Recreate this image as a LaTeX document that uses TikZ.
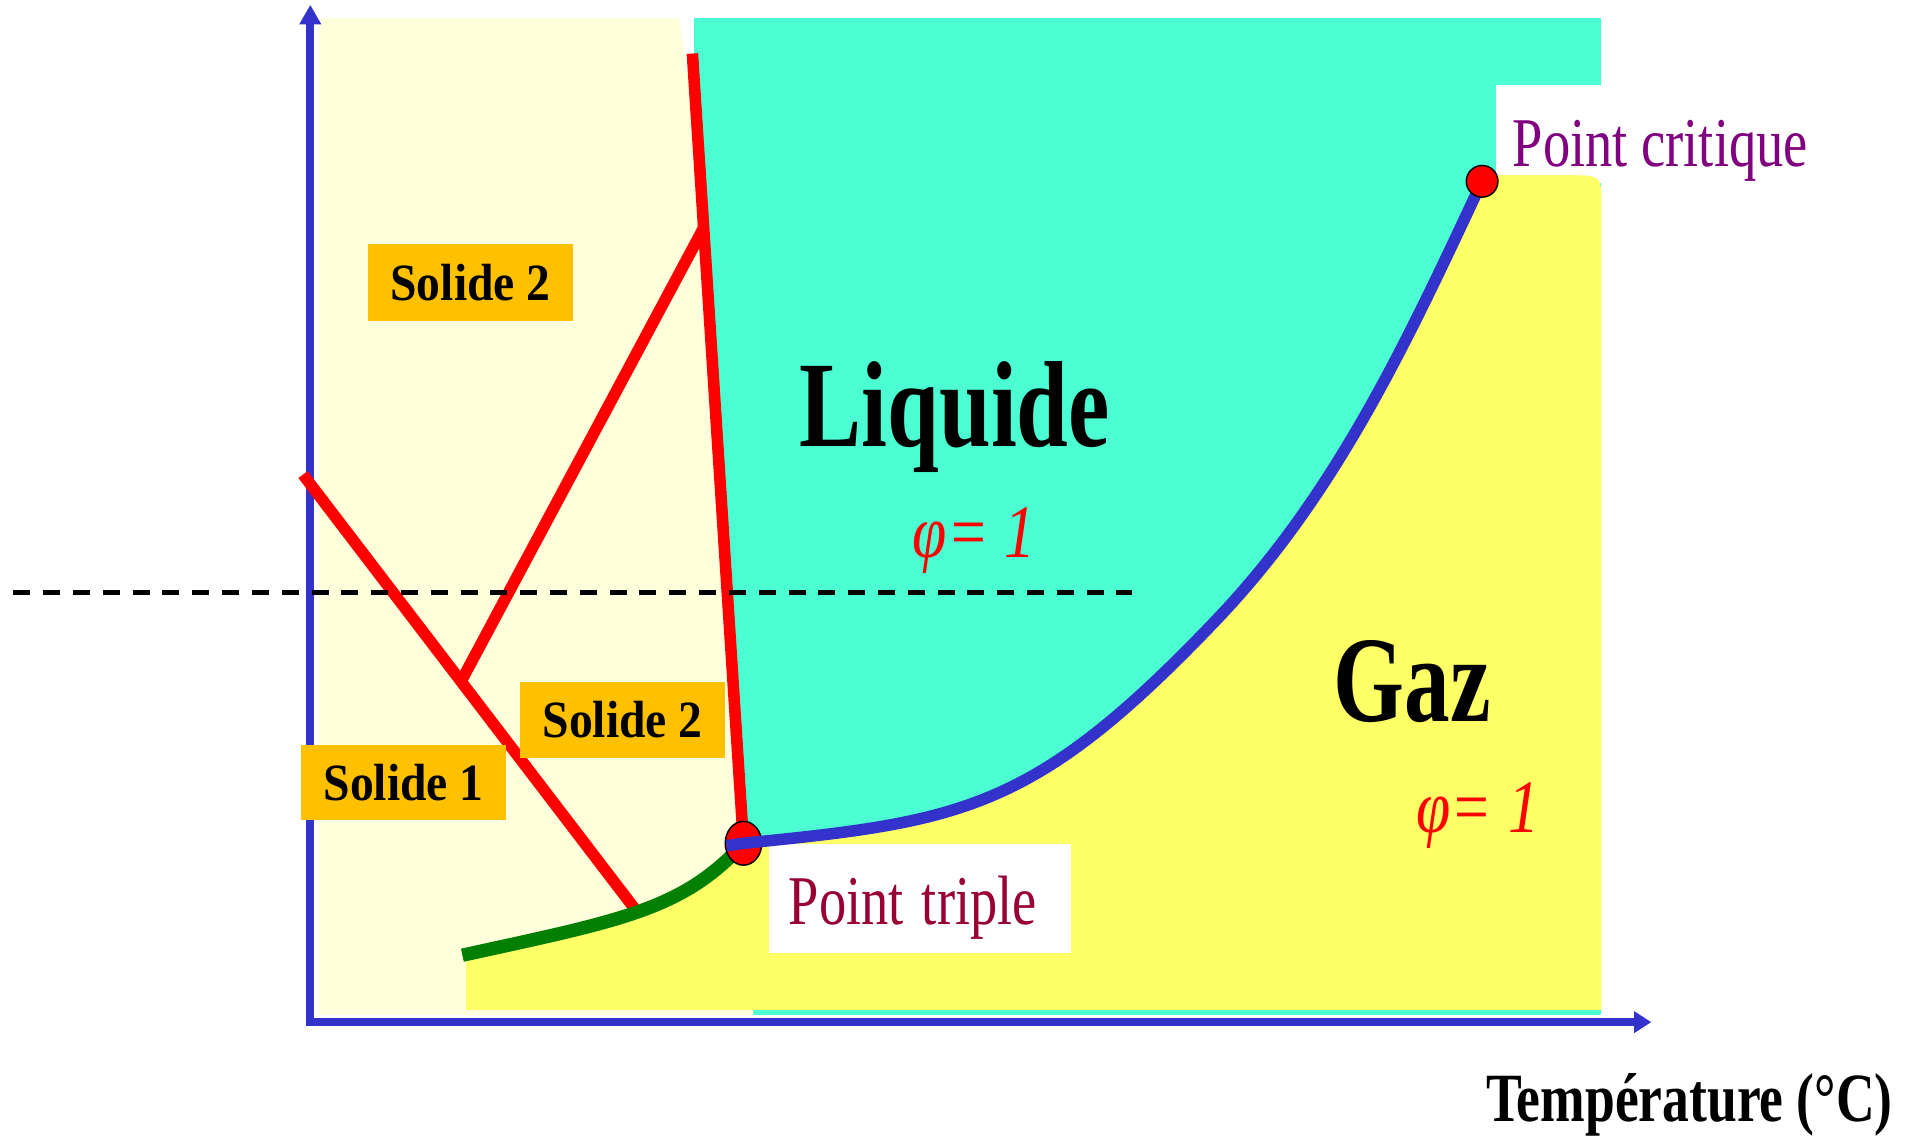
\documentclass[tikz,border=0pt]{standalone}
\usepackage{fontspec}
\setmainfont{Liberation Serif}
\usetikzlibrary{arrows.meta,shapes.geometric,calc}
\definecolor{solidbg}{HTML}{FFFFDC}
\definecolor{liqbg}{HTML}{4CFFD2}
\definecolor{gasbg}{HTML}{FFFF66}
\definecolor{boxor}{HTML}{FFC000}
\definecolor{axblue}{HTML}{3333CC}
\definecolor{dgreen}{HTML}{007F00}
\definecolor{tripc}{HTML}{990033}
\definecolor{critc}{HTML}{800080}
\begin{document}
\begin{tikzpicture}[x=1pt,y=-1pt,
  redline/.style={draw=red, line width=9.5pt},
  solidbox/.style={fill=boxor, minimum width=169pt, inner sep=0pt, anchor=north west,
    font=\fontsize{43}{43}\selectfont\bfseries},
  txt/.style={inner sep=0pt, anchor=base west},
  bigtxt/.style={txt, font=\fontsize{100.6}{100.6}\selectfont\bfseries},
  phitxt/.style={txt, text=red, font=\fontsize{62}{62}\selectfont\itshape},
  ptnode/.style={draw=black, line width=1.2pt, fill=red, inner sep=0pt}]
\useasboundingbox (0,0) rectangle (1568,933);
% key points
\coordinate (O) at (255,840);
\coordinate (ytip) at (255,4);
\coordinate (xtip) at (1357,840);
\coordinate (tpc) at (611,693);
\coordinate (cpc) at (1218,149);
\coordinate (mid) at (1000,509);
\coordinate (mtop) at (569,44);
\coordinate (a1) at (249,390);
\coordinate (a2) at (521,746);
\coordinate (bbot) at ($(a1)!0.4775!(a2)$);
\coordinate (btop) at ($(mtop)!0.2207!(tpc)$);
\coordinate (gstart) at (380,785);
\coordinate (dl) at (11,487);
\coordinate (dr) at (930,487);
% regions
\fill[liqbg] (570,15) rectangle (1316,834);
\fill[solidbg] (262,15) -- (558,15) -- (572,105) -- (tpc) -- (619,834) -- (262,834) -- cycle;
\node[txt, fill=white, inner xsep=14pt, inner ysep=0pt, text height=67pt, text depth=13pt,
  text=critc, font=\fontsize{57.4}{57.4}\selectfont] (pcl) at (1229,137)
  {\scalebox{0.78}[1]{Point critique}};
\fill[gasbg] (383,830) -- (383,785) -- (gstart) .. controls (510,756.4) and (561,748) .. (tpc)
  .. controls (791,675) and (850,666.5) .. (mid)
  .. controls (1100,404) and (1158,276.8) .. (cpc)
  -- (1218,144) -- (1290,144) .. controls (1316,144) .. (1316,170) -- (1316,830) -- cycle;
\node[txt, fill=white, inner xsep=16pt, inner ysep=0pt, text height=66pt, text depth=23pt,
  text width=216pt, align=left, text=tripc, font=\fontsize{57.4}{57.4}\selectfont] (ptl) at (632,760)
  {\scalebox{0.78}[1]{Point triple}};
% axes
\draw[axblue, line width=6.5pt, line join=miter,
  {Triangle[length=16pt,width=17pt]}-{Triangle[length=14pt,width=17pt]}] (ytip) -- (O) -- (xtip);
% phase boundaries
\draw[redline] (a1) -- (a2);
\draw[redline] (bbot) -- (btop);
\draw[redline] (mtop) -- (tpc);
\draw[dgreen, line width=11pt] (gstart) .. controls (510,756.4) and (561,748) .. (tpc);
\node[ptnode, ellipse, minimum width=30pt, minimum height=36pt] (tp) at (tpc) {};
\draw[axblue, line width=9.5pt] (597,695) -- (tpc)
  .. controls (791,675) and (850,666.5) .. (mid)
  .. controls (1100,404) and (1158,276.8) .. (cpc);
\node[ptnode, circle, minimum size=26pt] (cp) at (cpc) {};
% dashed line
\draw[black, line width=3.5pt, dash pattern=on 14pt off 10.5pt] (dl) -- (dr);
% solid boxes
\node[solidbox, minimum height=64pt] (s2a) at (302,200) {\scalebox{0.91}[1]{Solide 2}};
\node[solidbox, minimum height=63pt] (s2b) at (427,560) {\scalebox{0.91}[1]{Solide 2}};
\node[solidbox, minimum height=62pt] (s1) at (247,612) {\scalebox{0.91}[1]{Solide 1}};
% labels
\node[bigtxt] (liq) at (657,367) {\scalebox{0.76}[1]{Liquide}};
\node[bigtxt] (gaz) at (1096,593) {\scalebox{0.745}[1]{Gaz}};
\node[phitxt] (phil) at (750,458) {\scalebox{0.82}[1]{φ= 1}};
\node[phitxt] (phig) at (1164,684) {\scalebox{0.82}[1]{φ= 1}};
\node[txt, font=\fontsize{56.8}{56.8}\selectfont\bfseries] (temp) at (1221,922) {\scalebox{0.775}[1]{Température (°C)}};
\end{tikzpicture}
\end{document}
